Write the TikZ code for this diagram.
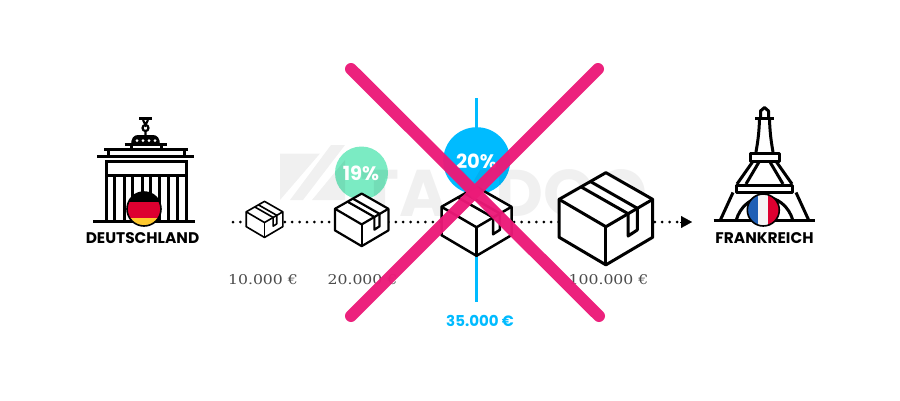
\documentclass[tikz,border=0pt]{standalone}
\usepackage{fontspec}
\usepackage{tikz}
\usetikzlibrary{arrows.meta}
\newfontfamily\headfont{Poppins}
\newfontfamily\pricefont{DejaVu Serif}
\definecolor{taxblue}{HTML}{00BBFF}
\definecolor{taxgreen}{HTML}{7BEBC3}
\definecolor{taxpink}{HTML}{EC1A78}
\definecolor{flagred}{HTML}{DD0030}
\definecolor{flagyellow}{HTML}{FFC92E}
\definecolor{flagblue}{HTML}{1F5FB5}
\tikzset{
    country/.style={font=\headfont\bfseries\fontsize{15.4}{15}\selectfont},
    price/.style={font=\pricefont\fontsize{13.5}{14}\selectfont,text=black!70,xscale=1.16},
    rate/.style={font=\headfont\bfseries\fontsize{19.5}{19}\selectfont,text=white},
    cross/.style={line width=12pt,line cap=round,draw=taxpink,opacity=.96},
    dotline/.style={line width=3pt,line cap=round,dash pattern=on 0pt off 7.4pt},
    icon/.style={line width=3pt,line cap=butt}
}
\newcommand{\parcel}[5]{
    \begin{scope}[shift={(#2,#3)},scale=#4,line width=#5,line join=round,y=-1pt,x=1pt]
        \coordinate (#1) at (0,0);
        \filldraw[fill=white] (0,-.99) -- (1,-.42) -- (1,.39) -- (0,.98) -- (-1,.39) -- (-1,-.42) -- cycle;
        \draw (-1,-.42) -- (0,.165) -- (1,-.42);
        \draw (0,.165) -- (0,.98);
        \draw (-.52,-.68) -- (.475,-.113) -- (.475,.363) -- (.67,.235) -- (.67,-.23) -- (-.33,-.8);
    \end{scope}
}
\begin{document}
\begin{tikzpicture}[x=1pt,y=-1pt]
    \useasboundingbox (0,0) rectangle (900,400);
    \fill[white] (0,0) rectangle (900,400);

    % Rates behind the watermark
    \draw[taxblue,line width=2.2pt] (476.5,98) coordinate (ratetop) -- (476.5,302) coordinate (ratebottom);
    \fill[taxgreen] (361.5,173) circle (26.5);
    \fill[taxblue] (476.7,160.7) circle (33.5);

    % Watermark
    \begin{scope}[opacity=.06]
        \fill (280,153.5) -- (320,153.5) -- (280,200) -- cycle;
        \fill (290,200) -- (331,145) -- (345,145) -- (303,200) -- cycle;
        \fill (312,200) -- (345,160) -- (345,200) -- cycle;
        \node[font=\headfont\bfseries\fontsize{66}{66}\selectfont,inner sep=0pt] (taxdoo) at (504,193) {TAXDOO};
    \end{scope}
    \node[rate] (rate19) at (361,173) {19\%};
    \node[rate] (rate20) at (476.5,161) {20\%};

    % Route
    \coordinate (routestart) at (233,222);
    \coordinate (routeend) at (692,222);
    \draw[dotline] (routestart) -- (680,222);
    \draw[-{Triangle[length=11pt,width=12pt]},line width=.1pt] (680,222) -- (routeend);

    % Parcels
    \parcel{parcelA}{264.5}{219.5}{18.3}{1.6pt}
    \parcel{parcelB}{361.7}{220}{26.7}{2.2pt}
    \parcel{parcelC}{476.5}{221.5}{35}{2.5pt}
    \parcel{parcelD}{605.9}{219}{46.8}{3pt}

    \node[price] (priceA) at (263,279.5) {10.000 €};
    \node[price] (priceB) at (362.5,279.5) {20.000 €};
    \node[price] (priceD) at (608.5,279.5) {100.000 €};
    \node[font=\headfont\bfseries\fontsize{15}{15}\selectfont,text=taxblue] (priceC) at (480,321) {35.000 €};

    % Deutschland
    \begin{scope}[icon]
        \draw (93,221) -- (195,221);
        \foreach \x in {106,114.3,124.3,132.3,142.3,150,159.3,168.3,177.7,186}
            \draw (\x,175) -- (\x,221);
        \draw (106,161) rectangle (186,175.5);
        \draw (97,156.7) -- (194,156.7);
        \draw (108.5,149) -- (108.5,156.7) (184.5,149) -- (184.5,156.7);
        \draw (104,149) -- (188,149);
        \draw (124.5,144) -- (167,144);
        \draw (131,144) -- (131,149) (161,144) -- (161,149);
        \fill (131,145) .. controls (131,138) and (134,135) .. (138,135) -- (153,135) .. controls (157,135) and (160,138) .. (160,145) -- cycle;
        \foreach \x in {137,143,149,155}
            \fill[white] (\x,140.5) circle (1.5);
        \draw[line width=2.2pt] (145.5,128) circle (3);
        \draw[line width=2.2pt] (139,118.5) -- (152,118.5);
        \draw[line width=2.2pt] (143,120) -- (145.5,125) -- (148,120) (145.5,131) -- (145.5,136);
    \end{scope}
    \begin{scope}
        \clip (144,209) circle (17);
        \fill[black] (127,192) rectangle (161,202);
        \fill[flagred] (127,202) rectangle (161,218);
        \fill[flagyellow] (127,218) rectangle (161,226);
    \end{scope}
    \draw[line width=1.6pt] (144,209) circle (17);
    \node[country] (deutschland) at (142.5,238.5) {DEUTSCHLAND};

    % Frankreich
    \begin{scope}[icon,line join=round]
        \draw (713.5,220.8) -- (815,220.8);
        \draw (760.5,118) -- (760.5,111) -- (764.5,107.5) -- (768.5,111) -- (768.5,118);
        \draw (755,118) -- (774,118);
        \draw (759.5,119) .. controls (759,135) and (757.5,143) .. (756,152);
        \draw (769.5,119) .. controls (770,135) and (771.5,143) .. (773,152);
        \draw (750.5,153) rectangle (779,161);
        \draw (752.5,162) -- (737,184) (759,162) -- (746,184);
        \draw (770,162) -- (783,184) (776.5,162) -- (792,184);
        \draw (736.5,185) rectangle (792.5,192);
        \draw (733,192.5) -- (720,220.8) (796,192.5) -- (809,220.8);
        \draw (736,220.8) .. controls (740,206) and (752,197) .. (764.5,197) .. controls (777,197) and (789,206) .. (793,220.8);
    \end{scope}
    \begin{scope}
        \clip (763.3,210) circle (16);
        \fill[flagblue] (747,194) rectangle (758,226);
        \fill[black!4] (758,194) rectangle (768.3,226);
        \fill[flagred] (768.3,194) rectangle (780,226);
    \end{scope}
    \draw[line width=1.6pt] (763.3,210) circle (16);
    \node[country] (frankreich) at (764.5,238.5) {FRANKREICH};

    % Cross
    \draw[cross] (351,69) coordinate (crossA) -- (599,316) coordinate (crossB);
    \draw[cross] (598,69) coordinate (crossC) -- (351,316) coordinate (crossD);
\end{tikzpicture}
\end{document}
